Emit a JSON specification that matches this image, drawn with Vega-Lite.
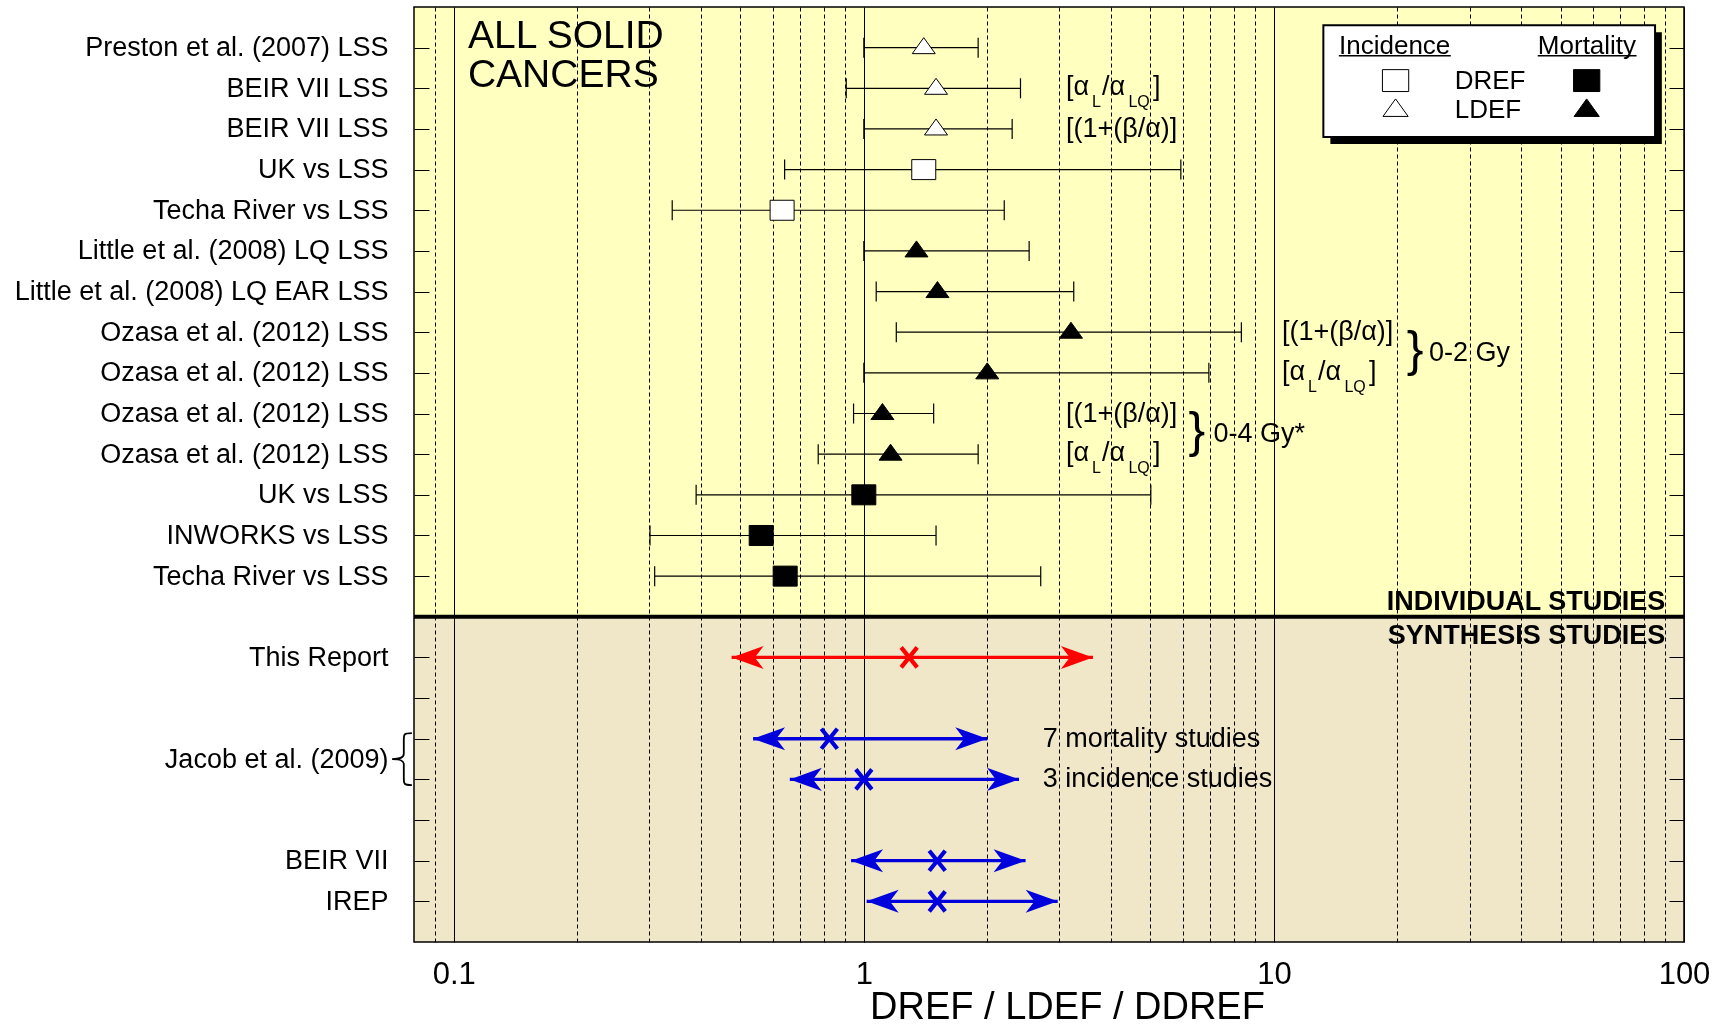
{
  "$schema": "https://vega.github.io/schema/vega-lite/v6.json",
  "width": 1270,
  "height": 935,
  "autosize": "none",
  "padding": {"left": 414, "top": 7, "right": 44, "bottom": 87},
  "background": "white",
  "config": {
    "font": "Liberation Sans",
    "view": {"stroke": "black", "strokeWidth": 1.5, "fill": "white"},
    "text": {"font": "Liberation Sans", "color": "black"}
  },
  "datasets": {
    "panels": [
      {"panel": "individual", "top": -1, "bottom": 14},
      {"panel": "synthesis", "top": 14, "bottom": 22}
    ],
    "ind": [
      {"row": 0, "study": "Preston et al. (2007) LSS", "lo": 1.0, "est": 1.4, "hi": 1.9, "sym": "triangle", "endpoint": "incidence"},
      {"row": 1, "study": "BEIR VII LSS", "lo": 0.906, "est": 1.5, "hi": 2.41, "sym": "triangle", "endpoint": "incidence"},
      {"row": 2, "study": "BEIR VII LSS", "lo": 1.0, "est": 1.5, "hi": 2.3, "sym": "triangle", "endpoint": "incidence"},
      {"row": 3, "study": "UK vs LSS", "lo": 0.641, "est": 1.4, "hi": 5.93, "sym": "square", "endpoint": "incidence"},
      {"row": 4, "study": "Techa River vs LSS", "lo": 0.341, "est": 0.632, "hi": 2.2, "sym": "square", "endpoint": "incidence"},
      {"row": 5, "study": "Little et al. (2008) LQ LSS", "lo": 1.0, "est": 1.344, "hi": 2.53, "sym": "triangle", "endpoint": "mortality"},
      {"row": 6, "study": "Little et al. (2008) LQ EAR LSS", "lo": 1.072, "est": 1.512, "hi": 3.25, "sym": "triangle", "endpoint": "mortality"},
      {"row": 7, "study": "Ozasa et al. (2012) LSS", "lo": 1.2, "est": 3.2, "hi": 8.33, "sym": "triangle", "endpoint": "mortality"},
      {"row": 8, "study": "Ozasa et al. (2012) LSS", "lo": 1.0, "est": 2.0, "hi": 6.94, "sym": "triangle", "endpoint": "mortality"},
      {"row": 9, "study": "Ozasa et al. (2012) LSS", "lo": 0.944, "est": 1.11, "hi": 1.48, "sym": "triangle", "endpoint": "mortality"},
      {"row": 10, "study": "Ozasa et al. (2012) LSS", "lo": 0.774, "est": 1.162, "hi": 1.9, "sym": "triangle", "endpoint": "mortality"},
      {"row": 11, "study": "UK vs LSS", "lo": 0.39, "est": 1.0, "hi": 5.01, "sym": "square", "endpoint": "mortality"},
      {"row": 12, "study": "INWORKS vs LSS", "lo": 0.301, "est": 0.562, "hi": 1.5, "sym": "square", "endpoint": "mortality"},
      {"row": 13, "study": "Techa River vs LSS", "lo": 0.309, "est": 0.643, "hi": 2.7, "sym": "square", "endpoint": "mortality"}
    ],
    "syn": [
      {"row": 15, "study": "This Report", "lo": 0.476, "est": 1.29, "hi": 3.62, "src": "this report"},
      {"row": 17, "study": "Jacob et al. (2009): 7 mortality studies", "lo": 0.537, "est": 0.824, "hi": 2.0, "src": "other"},
      {"row": 18, "study": "Jacob et al. (2009): 3 incidence studies", "lo": 0.66, "est": 1.0, "hi": 2.39, "src": "other"},
      {"row": 20, "study": "BEIR VII", "lo": 0.931, "est": 1.51, "hi": 2.48, "src": "other"},
      {"row": 21, "study": "IREP", "lo": 1.016, "est": 1.51, "hi": 2.97, "src": "other"}
    ],
    "notes": [
      {"label": "[(1+(β/α)]", "nx": 3.11, "ny": 2},
      {"label": "[(1+(β/α)]", "nx": 10.46, "ny": 7},
      {"label": "[(1+(β/α)]", "nx": 3.11, "ny": 9},
      {"label": "0-2 Gy", "nx": 23.9, "ny": 7.5},
      {"label": "0-4 Gy*", "nx": 7.12, "ny": 9.5},
      {"label": "7 mortality studies", "nx": 2.73, "ny": 17},
      {"label": "3 incidence studies", "nx": 2.73, "ny": 18}
    ],
    "alphaNotes": [
      {"nx": 3.11, "ny": 1},
      {"nx": 10.46, "ny": 8},
      {"nx": 3.11, "ny": 10}
    ],
    "braces": [
      {"nx": 22.1, "ny": 7.5},
      {"nx": 6.49, "ny": 9.5}
    ],
    "heading": [
      {"label": "ALL SOLID", "nx": 0.1083, "ny": 0},
      {"label": "CANCERS", "nx": 0.1083, "ny": 0.98}
    ],
    "sections": [
      {"label": "INDIVIDUAL STUDIES", "nx": 90, "ny": 13.63},
      {"label": "SYNTHESIS STUDIES", "nx": 90, "ny": 14.47}
    ]
  },
  "resolve": {"axis": {"y": "independent"}},
  "layer": [
    {
      "data": {"name": "panels"},
      "transform": [{"filter": "datum.panel == 'individual'"}],
      "mark": {"type": "rect", "blend": "multiply", "strokeWidth": 0, "fill": "#ffffc0"},
      "encoding": {
        "x": {"value": 0},
        "x2": {"value": "width"},
        "y": {"field": "top", "type": "quantitative", "scale": {"domain": [-1, 22], "reverse": true, "nice": false, "zero": false},
          "axis": {"orient": "left", "values": [0,1,2,3,4,5,6,7,8,9,10,11,12,13,15,16,17,17.5,18,19,20,21],
            "labelExpr": "datum.value == 17.5 ? 'Jacob et al. (2009)  ' : ['Preston et al. (2007) LSS','BEIR VII LSS','BEIR VII LSS','UK vs LSS','Techa River vs LSS','Little et al. (2008) LQ LSS','Little et al. (2008) LQ EAR LSS','Ozasa et al. (2012) LSS','Ozasa et al. (2012) LSS','Ozasa et al. (2012) LSS','Ozasa et al. (2012) LSS','UK vs LSS','INWORKS vs LSS','Techa River vs LSS','','This Report','','','','','BEIR VII','IREP'][datum.value]",
            "labelFontSize": 27, "labelFont": "Liberation Sans", "labelColor": "black", "labelLimit": 600, "labelOverlap": false, "labelPadding": 41, "labelBound": false,
            "tickSize": -15, "tickColor": "black", "tickWidth": 1,
            "tickOpacity": {"condition": {"test": "datum.value == 17.5", "value": 0}, "value": 1},
            "domain": false, "grid": false, "title": null, "zindex": 1}},
        "y2": {"field": "bottom"}
      }
    },
    {
      "data": {"name": "panels"},
      "transform": [{"filter": "datum.panel == 'synthesis'"}],
      "mark": {"type": "rect", "blend": "multiply", "strokeWidth": 0, "fill": "#efe7c8"},
      "encoding": {
        "x": {"value": 0},
        "x2": {"value": "width"},
        "y": {"field": "top", "type": "quantitative", "axis": null},
        "y2": {"field": "bottom"}
      }
    },
    {
      "data": {"name": "ind"},
      "mark": {"type": "rule", "color": "black", "strokeWidth": 1.2},
      "encoding": {
        "x": {"field": "lo", "type": "quantitative", "scale": {"type": "log", "domain": [0.08, 100], "nice": false},
          "axis": {"orient": "bottom",
            "values": [0.09,0.1,0.2,0.3,0.4,0.5,0.6,0.7,0.8,0.9,1,2,3,4,5,6,7,8,9,10,20,30,40,50,60,70,80,90,100],
            "labelExpr": "datum.value == 0.1 ? '0.1' : datum.value == 1 ? '1' : datum.value == 10 ? '10' : datum.value == 100 ? '100' : ''",
            "labelFontSize": 31, "labelFont": "Liberation Sans", "labelColor": "black", "labelPadding": 17, "labelFlush": false, "labelOverlap": false, "labelAngle": 0, "labelBound": false,
            "ticks": false, "domain": false,
            "grid": true, "gridColor": "black", "gridOpacity": 1, "gridWidth": 1,
            "gridDash": {"condition": {"test": "datum.value == 0.1 || datum.value == 1 || datum.value == 10 || datum.value == 100", "value": []}, "value": [4, 3]},
            "title": "DREF / LDEF / DDREF", "titleFontSize": 38, "titleFont": "Liberation Sans", "titleFontWeight": "normal", "titleColor": "black",
            "titleX": 653, "titleY": 76, "titleBaseline": "alphabetic", "titleAlign": "center", "zindex": 0}},
        "x2": {"field": "hi"},
        "y": {"field": "row", "type": "quantitative",
          "axis": {"orient": "right", "values": [0,1,2,3,4,5,6,7,8,9,10,11,12,13,15,16,17,18,19,20,21], "labels": false,
            "tickSize": -15, "tickColor": "black", "tickWidth": 1, "domain": false, "grid": false, "title": null, "zindex": 1}}
      }
    },
    {
      "data": {"name": "ind"},
      "mark": {"type": "point", "shape": "M0,-1L0,1", "size": 400, "filled": false, "stroke": "black", "strokeWidth": 1.2, "opacity": 1},
      "encoding": {
        "x": {"field": "lo", "type": "quantitative"},
        "y": {"field": "row", "type": "quantitative", "axis": null}
      }
    },
    {
      "data": {"name": "ind"},
      "mark": {"type": "point", "shape": "M0,-1L0,1", "size": 400, "filled": false, "stroke": "black", "strokeWidth": 1.2, "opacity": 1},
      "encoding": {
        "x": {"field": "hi", "type": "quantitative"},
        "y": {"field": "row", "type": "quantitative", "axis": null}
      }
    },
    {
      "data": {"name": "ind"},
      "transform": [{"filter": "datum.endpoint == 'incidence'"}],
      "mark": {"type": "point", "filled": true, "fill": "white", "stroke": "black", "strokeWidth": 1, "size": 400, "opacity": 1},
      "encoding": {
        "x": {"field": "est", "type": "quantitative"},
        "y": {"field": "row", "type": "quantitative", "axis": null},
        "shape": {"field": "sym", "type": "nominal", "scale": {"domain": ["triangle", "square"], "range": ["M0,-1L1.15,0.6L-1.15,0.6Z", "M-1.2,-1L1.2,-1L1.2,1L-1.2,1Z"]}, "legend": null}
      }
    },
    {
      "data": {"name": "ind"},
      "transform": [{"filter": "datum.endpoint == 'mortality'"}],
      "mark": {"type": "point", "filled": true, "fill": "black", "stroke": "black", "strokeWidth": 1, "size": 400, "opacity": 1},
      "encoding": {
        "x": {"field": "est", "type": "quantitative"},
        "y": {"field": "row", "type": "quantitative", "axis": null},
        "shape": {"field": "sym", "type": "nominal", "scale": {"domain": ["triangle", "square"], "range": ["M0,-1L1.15,0.6L-1.15,0.6Z", "M-1.2,-1L1.2,-1L1.2,1L-1.2,1Z"]}, "legend": null}
      }
    },
    {
      "data": {"name": "syn"},
      "mark": {"type": "rule", "strokeWidth": 3.3},
      "encoding": {
        "x": {"field": "lo", "type": "quantitative"},
        "x2": {"field": "hi"},
        "y": {"field": "row", "type": "quantitative", "axis": null},
        "color": {"field": "src", "type": "nominal", "scale": {"domain": ["this report", "other"], "range": ["#ff0000", "#0000dd"]}, "legend": null}
      }
    },
    {
      "data": {"name": "syn"},
      "mark": {"type": "point", "shape": "M0,0L2,-0.72L1.45,0L2,0.72Z", "size": 1024, "filled": true, "strokeWidth": 0, "opacity": 1},
      "encoding": {
        "x": {"field": "lo", "type": "quantitative"},
        "y": {"field": "row", "type": "quantitative", "axis": null},
        "color": {"field": "src", "type": "nominal", "scale": {"domain": ["this report", "other"], "range": ["#ff0000", "#0000dd"]}, "legend": null}
      }
    },
    {
      "data": {"name": "syn"},
      "mark": {"type": "point", "shape": "M0,0L-2,-0.72L-1.45,0L-2,0.72Z", "size": 1024, "filled": true, "strokeWidth": 0, "opacity": 1},
      "encoding": {
        "x": {"field": "hi", "type": "quantitative"},
        "y": {"field": "row", "type": "quantitative", "axis": null},
        "color": {"field": "src", "type": "nominal", "scale": {"domain": ["this report", "other"], "range": ["#ff0000", "#0000dd"]}, "legend": null}
      }
    },
    {
      "data": {"name": "syn"},
      "mark": {"type": "point", "shape": "M-0.8,-1L0.8,1M0.8,-1L-0.8,1", "size": 400, "filled": false, "strokeWidth": 4.2, "opacity": 1},
      "encoding": {
        "x": {"field": "est", "type": "quantitative"},
        "y": {"field": "row", "type": "quantitative", "axis": null},
        "color": {"field": "src", "type": "nominal", "scale": {"domain": ["this report", "other"], "range": ["#ff0000", "#0000dd"]}, "legend": null}
      }
    },
    {
      "data": {"values": [{}]},
      "mark": {"type": "rule", "color": "black", "strokeWidth": 4},
      "encoding": {
        "y": {"datum": 14, "type": "quantitative", "axis": null}
      }
    },
    {
      "data": {"name": "notes"},
      "mark": {"type": "text", "align": "left", "baseline": "middle", "fontSize": 27, "font": "Liberation Sans", "color": "black"},
      "encoding": {
        "x": {"field": "nx", "type": "quantitative"},
        "y": {"field": "ny", "type": "quantitative", "axis": null},
        "text": {"field": "label"}
      }
    },
    {
      "data": {"name": "alphaNotes"},
      "mark": {"type": "text", "text": "[α", "align": "left", "baseline": "alphabetic", "dy": 7, "fontSize": 27, "font": "Liberation Sans", "color": "black"},
      "encoding": {
        "x": {"field": "nx", "type": "quantitative"},
        "y": {"field": "ny", "type": "quantitative", "axis": null}
      }
    },
    {
      "data": {"name": "alphaNotes"},
      "mark": {"type": "text", "text": "L", "align": "left", "baseline": "alphabetic", "dx": 26, "dy": 19, "fontSize": 16, "font": "Liberation Sans", "color": "black"},
      "encoding": {
        "x": {"field": "nx", "type": "quantitative"},
        "y": {"field": "ny", "type": "quantitative", "axis": null}
      }
    },
    {
      "data": {"name": "alphaNotes"},
      "mark": {"type": "text", "text": "/α", "align": "left", "baseline": "alphabetic", "dx": 36, "dy": 7, "fontSize": 27, "font": "Liberation Sans", "color": "black"},
      "encoding": {
        "x": {"field": "nx", "type": "quantitative"},
        "y": {"field": "ny", "type": "quantitative", "axis": null}
      }
    },
    {
      "data": {"name": "alphaNotes"},
      "mark": {"type": "text", "text": "LQ", "align": "left", "baseline": "alphabetic", "dx": 62.5, "dy": 19, "fontSize": 16, "font": "Liberation Sans", "color": "black"},
      "encoding": {
        "x": {"field": "nx", "type": "quantitative"},
        "y": {"field": "ny", "type": "quantitative", "axis": null}
      }
    },
    {
      "data": {"name": "alphaNotes"},
      "mark": {"type": "text", "text": "]", "align": "left", "baseline": "alphabetic", "dx": 87, "dy": 7, "fontSize": 27, "font": "Liberation Sans", "color": "black"},
      "encoding": {
        "x": {"field": "nx", "type": "quantitative"},
        "y": {"field": "ny", "type": "quantitative", "axis": null}
      }
    },
    {
      "data": {"name": "braces"},
      "mark": {"type": "text", "text": "}", "align": "center", "baseline": "middle", "dy": -2, "fontSize": 50, "font": "Liberation Sans", "color": "black"},
      "encoding": {
        "x": {"field": "nx", "type": "quantitative"},
        "y": {"field": "ny", "type": "quantitative", "axis": null}
      }
    },
    {
      "data": {"name": "heading"},
      "mark": {"type": "text", "align": "left", "baseline": "alphabetic", "fontSize": 39, "font": "Liberation Sans", "color": "black"},
      "encoding": {
        "x": {"field": "nx", "type": "quantitative"},
        "y": {"field": "ny", "type": "quantitative", "axis": null},
        "text": {"field": "label"}
      }
    },
    {
      "data": {"name": "sections"},
      "mark": {"type": "text", "align": "right", "baseline": "middle", "fontSize": 27, "fontWeight": "bold", "font": "Liberation Sans", "color": "black"},
      "encoding": {
        "x": {"field": "nx", "type": "quantitative"},
        "y": {"field": "ny", "type": "quantitative", "axis": null},
        "text": {"field": "label"}
      }
    },
    {
      "data": {"values": [{}]},
      "mark": {"type": "point", "shape": "M0.36,-1C0.05,-1 0.05,-0.95 0.05,-0.75L0.05,-0.2C0.05,-0.05 -0.1,0 -0.4,0C-0.1,0 0.05,0.05 0.05,0.2L0.05,0.75C0.05,0.95 0.05,1 0.36,1", "size": 2704, "filled": false, "stroke": "black", "strokeWidth": 1.8, "opacity": 1},
      "encoding": {
        "x": {"datum": 0.075, "type": "quantitative"},
        "y": {"datum": 17.5, "type": "quantitative", "axis": null}
      }
    },
    {
      "data": {"values": [{}]},
      "mark": {"type": "rect", "fill": "black"},
      "encoding": {
        "x": {"datum": 13.73, "type": "quantitative"},
        "x2": {"datum": 88.3},
        "y": {"datum": -0.378, "type": "quantitative", "axis": null},
        "y2": {"datum": 2.37}
      }
    },
    {
      "data": {"values": [{}]},
      "mark": {"type": "rect", "fill": "white", "stroke": "black", "strokeWidth": 2},
      "encoding": {
        "x": {"datum": 13.2, "type": "quantitative"},
        "x2": {"datum": 85.0},
        "y": {"datum": -0.55, "type": "quantitative", "axis": null},
        "y2": {"datum": 2.198}
      }
    },
    {
      "data": {"values": [{}]},
      "mark": {"type": "text", "text": "Incidence", "align": "center", "baseline": "middle", "fontSize": 26, "font": "Liberation Sans", "color": "black"},
      "encoding": {
        "x": {"datum": 19.7, "type": "quantitative"},
        "y": {"datum": -0.04, "type": "quantitative", "axis": null}
      }
    },
    {
      "data": {"values": [{}]},
      "mark": {"type": "text", "text": "Mortality", "align": "center", "baseline": "middle", "fontSize": 26, "font": "Liberation Sans", "color": "black"},
      "encoding": {
        "x": {"datum": 58.0, "type": "quantitative"},
        "y": {"datum": -0.04, "type": "quantitative", "axis": null}
      }
    },
    {
      "data": {"values": [{}]},
      "mark": {"type": "rule", "color": "black", "strokeWidth": 1.5},
      "encoding": {
        "x": {"datum": 14.4, "type": "quantitative"},
        "x2": {"datum": 27.0},
        "y": {"datum": 0.2, "type": "quantitative", "axis": null}
      }
    },
    {
      "data": {"values": [{}]},
      "mark": {"type": "rule", "color": "black", "strokeWidth": 1.5},
      "encoding": {
        "x": {"datum": 44.0, "type": "quantitative"},
        "x2": {"datum": 76.6},
        "y": {"datum": 0.2, "type": "quantitative", "axis": null}
      }
    },
    {
      "data": {"values": [{}]},
      "mark": {"type": "text", "text": "DREF", "align": "left", "baseline": "middle", "fontSize": 26, "font": "Liberation Sans", "color": "black"},
      "encoding": {
        "x": {"datum": 27.6, "type": "quantitative"},
        "y": {"datum": 0.81, "type": "quantitative", "axis": null}
      }
    },
    {
      "data": {"values": [{}]},
      "mark": {"type": "text", "text": "LDEF", "align": "left", "baseline": "middle", "fontSize": 26, "font": "Liberation Sans", "color": "black"},
      "encoding": {
        "x": {"datum": 27.6, "type": "quantitative"},
        "y": {"datum": 1.53, "type": "quantitative", "axis": null}
      }
    },
    {
      "data": {"values": [{}]},
      "mark": {"type": "point", "shape": "M-1.2,-1L1.2,-1L1.2,1L-1.2,1Z", "size": 480, "filled": true, "fill": "white", "stroke": "black", "strokeWidth": 1, "opacity": 1},
      "encoding": {
        "x": {"datum": 19.8, "type": "quantitative"},
        "y": {"datum": 0.81, "type": "quantitative", "axis": null}
      }
    },
    {
      "data": {"values": [{}]},
      "mark": {"type": "point", "shape": "M-1.2,-1L1.2,-1L1.2,1L-1.2,1Z", "size": 480, "filled": true, "fill": "black", "stroke": "black", "strokeWidth": 1, "opacity": 1},
      "encoding": {
        "x": {"datum": 57.9, "type": "quantitative"},
        "y": {"datum": 0.81, "type": "quantitative", "axis": null}
      }
    },
    {
      "data": {"values": [{}]},
      "mark": {"type": "point", "shape": "M0,-1L1.15,0.6L-1.15,0.6Z", "size": 480, "filled": true, "fill": "white", "stroke": "black", "strokeWidth": 1, "opacity": 1},
      "encoding": {
        "x": {"datum": 19.8, "type": "quantitative"},
        "y": {"datum": 1.53, "type": "quantitative", "axis": null}
      }
    },
    {
      "data": {"values": [{}]},
      "mark": {"type": "point", "shape": "M0,-1L1.15,0.6L-1.15,0.6Z", "size": 480, "filled": true, "fill": "black", "stroke": "black", "strokeWidth": 1, "opacity": 1},
      "encoding": {
        "x": {"datum": 57.9, "type": "quantitative"},
        "y": {"datum": 1.53, "type": "quantitative", "axis": null}
      }
    }
  ]
}
